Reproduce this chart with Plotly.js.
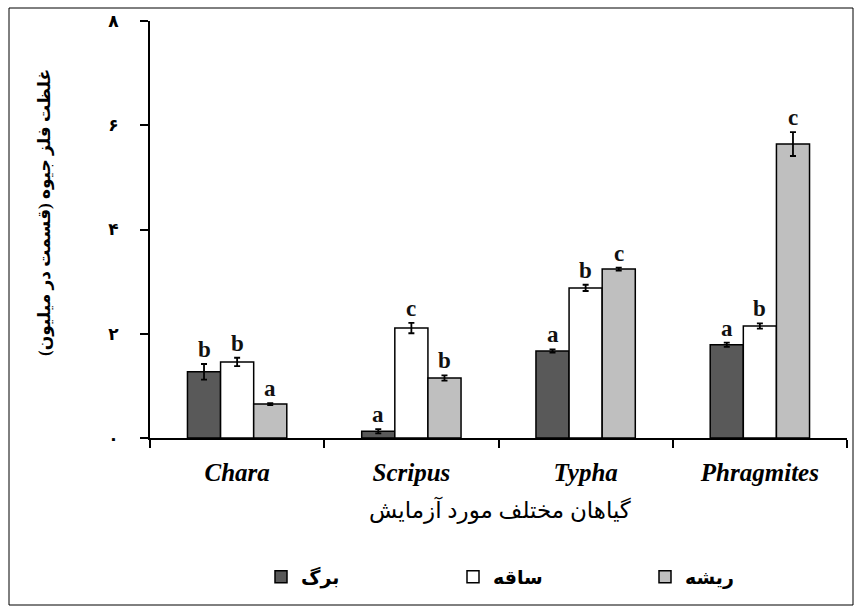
<!DOCTYPE html>
<html>
<head>
<meta charset="utf-8">
<script src="https://cdn.plot.ly/plotly-3.0.1.min.js"></script>
<style>html,body{margin:0;padding:0;background:#fff;}#chart{width:861px;height:613px;}</style>
</head>
<body>
<div id="chart"></div>
<script>
const categories = ['Chara', 'Scripus', 'Typha', 'Phragmites'];
const seriesNames = ['برگ', 'ساقه', 'ریشه'];
const leafValues = [1.27, 0.13, 1.67, 1.79];
const stemValues = [1.46, 2.11, 2.88, 2.15];
const rootValues = [0.65, 1.15, 3.24, 5.64];
const leafErrors = [0.15, 0.04, 0.03, 0.04];
const stemErrors = [0.08, 0.10, 0.06, 0.05];
const rootErrors = [0.02, 0.05, 0.03, 0.23];
const leafLetters = ['b', 'a', 'a', 'a'];
const stemLetters = ['b', 'c', 'b', 'b'];
const rootLetters = ['a', 'b', 'c', 'c'];
const yTickVals = [0, 2, 4, 6, 8];
const yTickText = ['۰', '۲', '۴', '۶', '۸'];
const yTitle = 'غلظت فلز جیوه (قسمت در میلیون)';
const xTitle = 'گیاهان مختلف مورد آزمایش';

const colors = ['#595959', '#ffffff', '#bfbfbf'];
const values = [leafValues, stemValues, rootValues];
const errors = [leafErrors, stemErrors, rootErrors];
const letters = [leafLetters, stemLetters, rootLetters];
const serif = '"Liberation Serif", "Times New Roman", "DejaVu Sans", serif';

const bargap = 0.43;
const barW = (1 - bargap) / 3;
const offsets = [-barW, 0, barW];

const traces = values.map((v, s) => ({
  type: 'bar',
  name: seriesNames[s],
  x: categories,
  y: v,
  marker: {color: colors[s], line: {color: '#000', width: 1.5}},
  error_y: {type: 'data', array: errors[s], visible: true, color: '#000', thickness: 1.8, width: 3},
  hoverinfo: 'none'
}));

const annotations = [];
values.forEach((v, s) => {
  v.forEach((val, i) => {
    annotations.push({
      xref: 'x', yref: 'y', x: i + offsets[s], y: val + errors[s][i],
      text: '<b>' + letters[s][i] + '</b>', showarrow: false,
      yanchor: 'bottom', yshift: 0,
      font: {family: serif, size: 23, color: '#111'}
    });
  });
});
annotations.push({
  xref: 'paper', yref: 'paper', x: (500 - 150) / 697, y: (438 - 510) / 417,
  text: xTitle, showarrow: false, xanchor: 'center', yanchor: 'middle',
  font: {family: serif, size: 23, color: '#000'}
});
annotations.push({
  xref: 'paper', yref: 'paper', x: (45 - 150) / 697, y: (438 - 213) / 417,
  text: '<b>' + yTitle + '</b>', showarrow: false, textangle: -90,
  xanchor: 'center', yanchor: 'middle',
  font: {family: serif, size: 17, color: '#000'}
});

const layout = {
  width: 861, height: 613,
  margin: {l: 150, r: 14, t: 21, b: 175, autoexpand: false},
  paper_bgcolor: '#fff', plot_bgcolor: '#fff',
  barmode: 'group', bargap: bargap, bargroupgap: 0,
  showlegend: true,
  legend: {
    orientation: 'h', x: (261 - 150) / 697, xanchor: 'left',
    y: (438 - 577) / 417, yanchor: 'middle',
    entrywidth: 147, entrywidthmode: 'pixels',
    font: {family: serif, size: 19, color: '#000', weight: 'bold'},
    traceorder: 'normal'
  },
  xaxis: {
    type: 'category', range: [-0.5, 3.5],
    showline: true, linecolor: '#000', linewidth: 2,
    ticks: 'outside', tickson: 'boundaries', ticklen: 8, tickwidth: 2, tickcolor: '#000',
    ticklabelstandoff: 11,
    tickfont: {family: serif, size: 25, color: '#000', weight: 'bold', style: 'italic'},
    showgrid: false, zeroline: false, fixedrange: true
  },
  yaxis: {
    range: [0, 8], tickvals: yTickVals, ticktext: yTickText,
    showline: true, linecolor: '#000', linewidth: 2,
    ticks: 'outside', ticklen: 8, tickwidth: 2, tickcolor: '#000',
    ticklabelstandoff: 18,
    tickfont: {family: serif, size: 17, color: '#000', weight: 'bold'},
    showgrid: false, zeroline: false, fixedrange: true
  },
  annotations: annotations,
  shapes: [{
    type: 'rect', xref: 'paper', yref: 'paper',
    x0: (9 - 150) / 697, x1: (853 - 150) / 697,
    y0: (438 - 605) / 417, y1: (438 - 8) / 417,
    line: {color: '#000', width: 1}, fillcolor: 'rgba(0,0,0,0)', layer: 'above'
  }]
};

Plotly.newPlot('chart', traces, layout, {displayModeBar: false, staticPlot: true});
</script>
</body>
</html>
